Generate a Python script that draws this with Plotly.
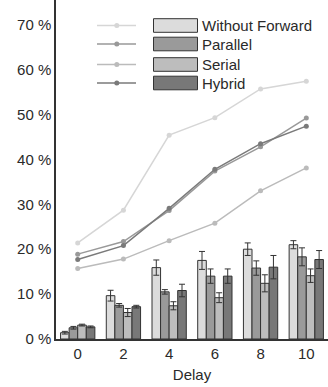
import plotly.graph_objects as go

# Delay steps on the x axis
delays = [0, 2, 4, 6, 8, 10]
series_names = ["Without Forward", "Parallel", "Serial", "Hybrid"]

# Line series (%)
line_without_forward = [21.4, 28.7, 45.4, 49.3, 55.7, 57.4]
line_parallel = [18.9, 21.7, 28.6, 37.4, 42.8, 49.2]
line_serial = [15.7, 17.8, 21.9, 25.8, 33.0, 38.1]
line_hybrid = [17.7, 20.8, 29.1, 37.8, 43.5, 47.4]

# Bar series (%) with error margins
bar_without_forward = [1.4, 9.65, 15.9, 17.5, 20.0, 21.0]
err_without_forward = [0.3, 1.2, 1.7, 2.0, 1.4, 0.9]
bar_parallel = [2.5, 7.5, 10.5, 14.0, 15.8, 18.3]
err_parallel = [0.3, 0.4, 0.5, 1.6, 1.6, 2.0]
bar_serial = [3.1, 5.9, 7.4, 9.2, 12.4, 14.1]
err_serial = [0.2, 0.9, 0.9, 1.1, 1.9, 1.5]
bar_hybrid = [2.7, 7.2, 10.8, 14.0, 16.0, 17.7]
err_hybrid = [0.2, 0.3, 1.4, 1.6, 2.6, 2.0]

y_ticks = [0, 10, 20, 30, 40, 50, 60, 70]
y_tick_labels = ["0 %", "10 %", "20 %", "30 %", "40 %", "50 %", "60 %", "70 %"]

bar_colors = ["#dcdcdc", "#9a9a9a", "#bdbdbd", "#787878"]
line_colors = ["#d6d6d6", "#999999", "#bbbbbb", "#7a7a7a"]
edge = "#333333"
text_color = "#2a2a2a"

lines = [line_without_forward, line_parallel, line_serial, line_hybrid]
bars = [bar_without_forward, bar_parallel, bar_serial, bar_hybrid]
errs = [err_without_forward, err_parallel, err_serial, err_hybrid]

fig = go.Figure()

for name, vals, errv, col in zip(series_names, bars, errs, bar_colors):
    fig.add_trace(go.Bar(
        x=delays, y=vals, name=name,
        marker=dict(color=col, line=dict(color=edge, width=1)),
        error_y=dict(type="data", array=errv, color=edge, thickness=1, width=3),
        showlegend=False,
    ))

for name, vals, col in zip(series_names, lines, line_colors):
    fig.add_trace(go.Scatter(
        x=delays, y=vals, name=name, mode="lines+markers",
        line=dict(color=col, width=1.5),
        marker=dict(color=col, size=5),
        showlegend=False,
    ))

# Hand-built legend: line sample + filled box + label per row
W, H = 272.0, 339.0
L = 56.0

def px(xp):
    return (xp - L) / W

def py(yp):
    return (H - yp) / H

shapes = []
annotations = []
row_y = [25.5, 44.0, 64.5, 83.0]
for name, yc, bc, lc in zip(series_names, row_y, bar_colors, line_colors):
    shapes.append(dict(type="line", xref="paper", yref="paper",
                       x0=px(97), x1=px(136), y0=py(yc), y1=py(yc),
                       line=dict(color=lc, width=1.5)))
    shapes.append(dict(type="circle", xref="paper", yref="paper",
                       x0=px(114.3), x1=px(119.3), y0=py(yc - 2.5), y1=py(yc + 2.5),
                       fillcolor=lc, line=dict(color=lc, width=0)))
    shapes.append(dict(type="rect", xref="paper", yref="paper",
                       x0=px(153.5), x1=px(197.5), y0=py(yc - 6.8), y1=py(yc + 6.8),
                       fillcolor=bc, line=dict(color=edge, width=1)))
    annotations.append(dict(xref="paper", yref="paper", x=px(200), y=py(yc),
                            text=name, showarrow=False, xanchor="left", yanchor="middle",
                            font=dict(size=15, color=text_color)))

fig.update_layout(
    width=328, height=387,
    margin=dict(l=56, r=0, t=0, b=48),
    paper_bgcolor="white", plot_bgcolor="white",
    barmode="group", bargap=0.25, bargroupgap=0,
    font=dict(family="Liberation Sans, Arial, sans-serif", size=15, color=text_color),
    shapes=shapes, annotations=annotations,
    xaxis=dict(range=[-0.95, 10.95], tickvals=delays, ticks="", showgrid=False,
               zeroline=False, showline=True, linecolor=edge, linewidth=1.5,
               title=dict(text="Delay", font=dict(size=15), standoff=9)),
    yaxis=dict(range=[0, 75.5], tickvals=y_ticks, ticktext=y_tick_labels, ticks="",
               showgrid=False, zeroline=False, showline=True, linecolor=edge, linewidth=1.5),
)

fig.write_html("out.html")
